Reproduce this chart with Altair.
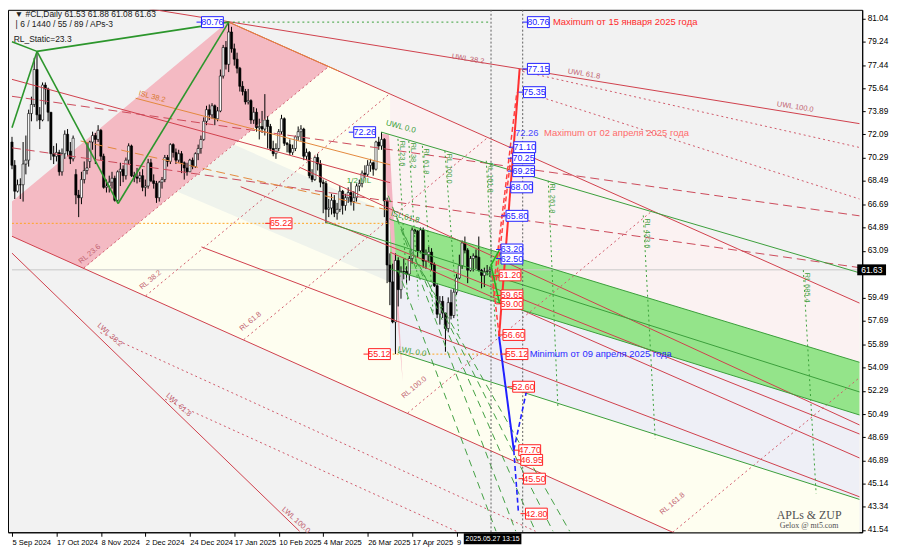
import altair as alt
import pandas as pd

# ---------------- candles (bar index 0 = 25 Sep 2024) ----------------
OPEN = [71.5,69.7,67.7,68.2,68.2,69.8,70.1,73.7,74.4,77.1,
        73.6,73.2,75.9,75.6,73.8,70.6,70.4,70.7,69.2,70.6,
        72.1,70.8,70.2,69.0,67.4,67.2,68.6,69.3,70.0,71.5,
        72.0,71.7,72.4,70.4,68.0,68.1,68.4,68.7,67.0,69.2,
        69.4,68.9,70.1,71.2,68.9,68.8,68.7,68.9,68.0,68.1,
        69.9,68.5,68.3,67.2,68.4,68.6,70.3,70.0,71.3,70.7,
        70.1,70.6,69.9,69.5,69.2,70.1,69.6,70.6,71.0,71.7,
        73.1,74.0,73.6,74.3,73.3,73.9,76.6,78.8,77.5,80.0,
        78.7,77.9,77.2,75.8,75.4,74.6,74.7,73.2,73.8,72.6,
        72.7,72.5,73.2,72.7,71.0,70.6,71.0,72.3,73.3,71.4,
        71.3,70.7,71.0,71.9,72.3,72.5,70.4,70.7,68.9,68.6,
        70.3,69.8,68.4,68.3,66.3,66.4,67.0,66.0,66.3,67.7,
        66.6,67.2,67.6,66.9,67.2,68.1,68.3,69.1,69.0,69.7,
        69.9,69.4,71.5,71.2,71.7,66.95,62.0,60.7,57.6,62.35,
        60.1,61.5,61.5,61.3,62.5,64.7,64.6,63.1,64.7,62.3,
        62.8,63.0,62.05,60.4,58.2,59.2,58.3,57.1,59.1,58.1,
        59.9,61.0,61.95,63.7,63.15,61.6,62.5,62.7,62.6,61.6,
        61.2,61.5,61.53]
HIGH = [71.9,70.1,68.6,68.7,71.5,72.0,74.0,75.0,78.0,78.5,
        74.2,76.1,76.1,75.7,73.8,71.2,71.4,70.9,71.0,72.4,
        72.5,71.5,72.0,69.4,67.8,69.2,70.0,71.5,71.6,72.3,
        72.2,72.8,72.5,70.6,68.6,68.9,69.2,68.9,69.3,69.9,
        69.7,70.3,71.4,71.3,69.2,69.5,69.2,69.4,68.6,70.2,
        70.2,69.0,68.5,68.5,68.8,70.5,70.5,71.4,71.4,71.0,
        70.9,70.8,70.0,69.9,70.2,70.3,70.7,71.3,72.0,73.4,
        74.3,74.4,74.5,74.4,74.2,77.1,79.0,79.3,80.76,80.4,
        79.1,78.4,77.3,76.2,75.6,75.6,74.8,74.2,74.1,73.3,
        73.9,75.2,73.5,72.9,71.6,71.4,72.5,73.6,73.4,71.5,
        71.7,71.3,72.0,72.7,72.8,72.6,71.0,70.8,69.4,70.4,
        70.6,70.1,68.6,68.5,67.1,67.5,67.4,66.8,68.1,67.8,
        67.5,68.0,68.4,67.7,68.3,68.6,69.3,69.7,70.1,70.2,
        70.0,71.6,71.9,72.26,71.8,67.2,62.9,62.1,62.9,62.6,
        61.9,62.5,61.9,62.7,64.9,64.8,64.7,64.9,64.9,63.2,
        63.4,63.3,62.2,60.6,59.6,59.6,58.3,59.5,60.1,60.2,
        61.3,62.8,63.9,64.2,63.3,62.7,62.9,63.2,64.2,61.7,
        61.8,62.0,61.88]
LOW = [69.4,67.1,67.6,67.1,66.9,69.0,69.6,73.1,74.2,73.1,
       72.5,73.1,74.4,73.1,70.1,69.8,70.0,68.9,68.9,70.2,
       70.4,69.8,70.0,66.7,65.7,66.7,68.3,69.0,69.5,70.9,
       69.8,71.5,70.1,67.9,67.6,67.6,67.9,66.9,66.9,68.1,
       68.4,68.6,69.8,68.8,68.4,68.3,68.4,67.7,67.3,67.9,
       68.4,67.9,66.8,66.9,67.9,68.4,69.6,69.8,70.3,69.8,
       69.9,69.1,68.6,68.9,69.2,69.4,69.5,70.1,70.6,71.6,
       72.8,73.2,73.3,72.8,73.1,73.8,76.4,77.1,76.9,78.4,
       77.4,76.8,75.4,75.1,74.4,74.4,72.9,72.9,72.3,71.7,
       72.2,72.0,71.0,70.8,70.4,70.2,70.8,72.1,71.2,70.7,
       70.5,70.5,70.8,71.6,71.6,70.1,70.1,68.7,68.4,68.5,
       69.3,68.0,66.0,65.22,65.7,65.9,65.7,65.5,66.1,65.9,
       66.2,66.8,66.6,66.2,66.9,67.7,68.0,68.7,68.8,69.2,
       68.9,69.3,70.9,70.9,65.7,60.6,58.9,57.5,55.12,58.8,
       59.4,60.9,60.6,60.8,62.1,64.4,62.6,62.9,61.8,61.7,
       62.2,61.6,60.3,57.9,57.4,57.9,55.3,56.8,57.8,57.9,
       59.7,60.9,61.7,62.9,60.6,61.5,61.5,61.7,61.5,60.2,
       60.3,61.2,61.08]
CLOSE = [69.7,67.7,68.2,68.2,69.8,70.1,73.7,74.4,77.1,73.6,
         73.2,75.9,75.6,73.8,70.6,70.4,70.7,69.2,70.6,72.1,
         70.8,70.2,71.8,67.4,67.2,68.6,69.3,69.5,71.5,72.0,
         71.7,72.4,70.4,68.0,68.1,68.4,68.7,67.0,69.2,69.4,
         68.9,70.1,71.2,68.9,68.8,68.7,68.9,68.0,68.1,69.9,
         68.5,68.3,67.2,68.4,68.6,70.3,70.0,71.3,70.7,70.1,
         70.6,69.9,69.5,69.2,70.1,69.6,70.6,71.0,71.7,73.1,
         74.0,73.6,74.3,73.3,73.9,76.6,78.8,77.5,80.0,78.7,
         77.9,77.2,75.8,75.4,74.6,74.7,73.2,73.8,72.6,72.7,
         72.5,73.2,72.7,71.0,70.6,71.0,72.3,73.3,71.4,71.3,
         70.7,71.0,71.9,72.3,72.5,70.4,70.7,68.9,68.6,70.3,
         69.8,68.4,68.3,66.3,66.4,67.0,66.0,66.3,67.7,66.6,
         67.2,67.6,66.9,67.2,68.1,68.3,69.1,69.0,69.7,69.9,
         69.4,71.5,71.2,71.7,66.95,62.0,60.7,57.6,62.35,60.1,
         61.5,61.5,61.3,62.5,64.7,64.6,63.1,64.7,62.3,62.8,
         63.0,62.05,60.4,58.2,59.2,58.3,57.1,59.1,58.1,59.9,
         61.0,61.95,63.7,63.15,61.6,62.5,62.7,62.6,61.6,61.2,
         61.5,61.53,61.63]

# ---------------- axes ----------------
X_TICKS = [0, 16, 32, 48, 64, 80, 96, 112, 128, 144, 160]
X_LABELS = ["5 Sep 2024", "17 Oct 2024", "8 Nov 2024", "2 Dec 2024", "24 Dec 2024",
            "17 Jan 2025", "10 Feb 2025", "4 Mar 2025", "26 Mar 2025", "17 Apr 2025", "9"]
Y_TICKS = [81.04, 79.24, 77.44, 75.64, 73.89, 72.09, 70.29, 68.49, 66.69, 64.89, 63.09,
           61.29, 59.49, 57.69, 55.89, 54.09, 52.29, 50.49, 48.69, 46.89, 45.14, 43.34, 41.54]
Y_HIDDEN = 61.29          # label hidden under the last-price box
LAST_PRICE = 61.63

# ---------------- shaded zones: (bar, top price, bottom price) ----------------
CREAM = [(25.8, 61.77, 61.77), (114.1, 77.35, 53.25), (303.9, 59.16, 35.0), (305.0, 59.06, 34.9)]
MINT = [(59.4, 67.67, 67.67), (79.9, 71.3, 65.8), (136.1, 65.98, 60.69)]
PINKWHITE = [(136.1, 75.21, 55.44), (305.0, 59.06, 43.9)]
LAVENDER = [(136.1, 61.69, 55.44), (305.0, 50.42, 43.9)]
PINK = [(0, 66.9, 64.22), (25.8, 71.51, 61.74), (77.7, 80.79, 70.96), (114.1, 77.35, 77.35)]
GREEN = [(136.1, 65.52, 61.69), (305.0, 54.49, 50.42)]
SLIVER = [(133.2, 72.12, 72.12), (135.7, 72.1, 65.7), (140.6, 53.02, 53.02)]

# ---------------- line segments: (bar1, price1, bar2, price2) ----------------
RED_SOLID = [(49.5, 81.78, 305.0, 72.92), (77.7, 80.79, 305.0, 59.06), (0, 76.34, 136.1, 68.36),
             (82.3, 68.05, 305.0, 48.95), (68.2, 63.40, 305.0, 44.1), (103.5, 69.55, 305.0, 49.65),
             (136.1, 62.99, 305.0, 47.1), (0, 64.22, 305.0, 34.9), (0, 62.92, 103.5, 41.44)]
RED_DASH = [(0, 75.03, 305.0, 65.8), (0, 71.05, 305.0, 61.8)]
RED_DOT = [(183.8, 76.95, 305.0, 71.08), (183.8, 75.42, 305.0, 67.1), (31.8, 56.78, 188.4, 41.44),
           (55.1, 51.64, 159.9, 41.44), (48.1, 59.62, 135.7, 75.19), (83.4, 56.24, 171.0, 71.81),
           (142.4, 50.57, 229.7, 66.06), (237.8, 41.36, 305.0, 53.3), (25.8, 61.77, 114.1, 77.35)]
ORANGE_SOLID = [(44.5, 74.88, 136.1, 69.74), (77.7, 80.79, 117.7, 76.97)]
ORANGE_DASH = [(24.7, 71.58, 136.1, 66.21)]
ORANGE_DOT = [(0, 65.22, 136.0, 65.22), (137.0, 55.12, 177.7, 55.12)]
GREEN_SOLID = [(132.9, 72.27, 305.0, 61.4), (113.1, 65.29, 305.0, 52.2), (136.1, 65.52, 305.0, 54.49),
               (136.1, 61.69, 305.0, 50.42), (138.9, 55.25, 305.0, 43.9)]
GREEN_DASH = [(135.4, 67.36, 181.3, 41.44), (138.2, 65.83, 188.4, 41.44), (140.6, 64.53, 194.7, 41.44),
              (143.1, 63.15, 200.7, 41.44), (138.9, 61.61, 174.2, 41.44)]
GREEN_DOT = [(138.9, 71.74, 142.4, 59.31), (142.8, 71.58, 146.3, 59.31), (147.7, 71.2, 151.6, 58.16),
             (155.8, 70.82, 160.8, 56.63), (170.7, 70.05, 174.2, 56.24), (193.0, 68.51, 196.5, 50.87),
             (227.2, 65.83, 231.5, 48.57), (284.8, 61.61, 289.4, 44.35), (77.7, 80.76, 172.4, 80.76)]
ZUP = [(0, 72.6, 9, 78.5), (9, 78.5, 0, 79.25), (9, 78.5, 78, 80.76), (9, 78.5, 38.2, 66.75),
       (38.2, 66.75, 78, 80.76)]
VGRAY = [(172.4, 41.36, 172.4, 81.71), (183.8, 41.36, 183.8, 81.71)]
HGRAY = [(0, LAST_PRICE, 305.0, LAST_PRICE)]
RED_PROJ = [(175.3, 56.47, 182.7, 77.15)]
RED_PROJ_DASH = [(173.2, 60.1, 181.7, 75.35), (173.6, 59.6, 180.0, 71.1), (172.8, 61.2, 175.3, 56.6)]
BLUE_PROJ = [(175.3, 56.47, 180.6, 47.7)]
BLUE_PROJ_DASH = [(180.6, 47.7, 185.5, 52.6), (180.6, 47.7, 182.3, 42.8)]
GREEN_PROJ = [(172.4, 62.0, 175.5, 63.2), (172.4, 62.0, 175.5, 59.0)]

# ---------------- price boxes: (bar, price) ----------------
BOX_BLUE = [(185.5, 80.76), (185.5, 77.15), (184.1, 75.35), (180.6, 71.10), (180.2, 70.25),
            (180.2, 69.25), (179.5, 68.00), (177.8, 65.80), (176.0, 63.20), (176.0, 62.50),
            (68.2, 80.76), (123.0, 72.26)]
BOX_RED = [(175.3, 61.20), (176.0, 59.65), (176.0, 59.00), (176.7, 56.60), (177.8, 55.12),
           (180.2, 52.60), (182.4, 47.70), (183.1, 46.95), (184.1, 45.50), (184.8, 42.80),
           (92.9, 65.22), (128.3, 55.12)]

# ---------------- texts ----------------
HEADER = [("\u25bc #CL,Daily  61.53 61.88 61.08 61.63", 1.0, 81.38),
          ("| 6 / 1440 / 55 / 89 / APs-3", 1.3, 80.62),
          ("RL_Static=23.3", 0.6, 79.42)]
NOTES = [("Maximum от 15 января 2025 года", 194.7, 80.76, "#ff2a2a"),
         ("72.26", 181.0, 72.2, "#4a4aff"),
         ("Maximum от 02 апреля 2025 года", 191.5, 72.2, "#ff6a6a"),
         ("Minimum от 09 апреля 2025 года", 186.3, 55.12, "#2a2aff")]
RED_LABELS = [("UWL 38.2", 158.3, 78.1, 9), ("UWL 61.8", 200.0, 76.95, 9), ("UWL 100.0", 275.3, 74.42, 9),
              ("LWL 38.2", 31.1, 57.4, 42), ("LWL 61.8", 55.8, 52.0, 42), ("LWL 100.0", 97.5, 43.2, 42),
              ("RL 23.6", 24.4, 62.2, 320), ("RL 38.2", 46.3, 60.2, 320), ("RL 61.8", 82.3, 57.0, 320),
              ("RL 100.0", 140.6, 51.79, 320), ("RL 161.8", 233.6, 42.82, 320)]
ORANGE_LABELS = [("ISL 38.2", 45.6, 75.26, 15)]
GREEN_LABELS = [("UWL 0.0", 134.6, 72.96, 15), ("LWL 0.0", 138.9, 55.48, 10),
                ("ISL 61.8", 136.4, 65.98, 15), ("1/2 ML", 120.5, 68.51, 0)]
GREEN_TIME_LABELS = [("RL 23.6", 138.9, 71.6), ("RL 38.2", 142.8, 71.45), ("RL 61.8", 147.7, 71.0),
                     ("RL 100.0", 155.8, 70.6), ("RL 161.8", 170.7, 69.9), ("RL 261.8", 193.0, 68.3),
                     ("RL 423.6", 227.2, 65.6), ("RL 685.4", 284.8, 61.4)]
CURSOR = ("2025.05.27 13:15", 162.6)
MARK = [("APLs & ZUP", 286.9, 42.67, 12), ("Gelox @ mt5.com", 286.9, 41.85, 8)]

FONT = "Liberation Sans"

# ---------------- scales / axes ----------------
XS = alt.Scale(domain=[0.353, 304.2], nice=False, zero=False)
YS = alt.Scale(domain=[41.36, 81.71], nice=False, zero=False)
label_expr = "".join(f"datum.value == {v} ? '{t}' : " for v, t in zip(X_TICKS, X_LABELS)) + "''"
y_label_expr = f"abs(datum.value - {Y_HIDDEN}) < 0.001 ? '' : format(datum.value, '.2f')"
XAX = alt.Axis(values=X_TICKS, labelExpr=label_expr, title=None, grid=False, labelAlign="left",
               labelPadding=2, labelFontSize=7.6, labelFont=FONT, tickSize=4, tickColor="black",
               domainColor="black", labelColor="black", labelOverlap=False, labelFlush=False)
YAX = alt.Axis(values=Y_TICKS, orient="right", labelExpr=y_label_expr, title=None, grid=False,
               labelFontSize=8.3, labelFont=FONT, tickSize=3, labelPadding=2, tickColor="black",
               domainColor="black", labelColor="black", labelOverlap=False)


def xe(f):
    return alt.X(f, type="quantitative", scale=XS, axis=XAX)


def ye(f, stack=False):
    if stack:
        return alt.Y(f, type="quantitative", scale=YS, axis=YAX, stack=None)
    return alt.Y(f, type="quantitative", scale=YS, axis=YAX)


def area(pts, color):
    df = pd.DataFrame(pts, columns=["x", "top", "bot"])
    return alt.Chart(df).mark_area(color=color, clip=True, opacity=1).encode(
        x=xe("x"), y=ye("top", stack=True), y2=alt.Y2("bot"))


def lines(segs, color, width=1.0, dash=None):
    rows = []
    for k, (x1, y1, x2, y2) in enumerate(segs):
        rows.append({"seg": k, "x": x1, "y": y1})
        rows.append({"seg": k, "x": x2, "y": y2})
    kw = dict(color=color, strokeWidth=width, clip=True)
    if dash:
        kw["strokeDash"] = dash
    return alt.Chart(pd.DataFrame(rows)).mark_line(**kw).encode(
        x=xe("x"), y=ye("y"), detail="seg:N")


def texts(rows, color, size, angle=0, align="left", dx=0, dy=0, font=FONT, baseline="middle"):
    df = pd.DataFrame(rows, columns=["t", "x", "y"])
    return alt.Chart(df).mark_text(color=color, fontSize=size, angle=angle, align=align, dx=dx, dy=dy,
                                   font=font, baseline=baseline).encode(x=xe("x"), y=ye("y"), text="t:N")


layers = []
# zones
layers += [area(CREAM, "#fefef0"), area(MINT, "#eff3ec"), area(PINKWHITE, "#fbf2f2"),
           area(LAVENDER, "#eeeff6"), area(PINK, "#f4bac3"), area(GREEN, "#94e48a"),
           area(SLIVER, "#f3b4c2")]
layers += [lines(HGRAY, "#c8c8c8", 1)]

# candles
cdf = pd.DataFrame({"i": list(range(len(OPEN))), "o": OPEN, "h": HIGH, "l": LOW, "c": CLOSE})
layers.append(alt.Chart(cdf).mark_rule(color="#000000", strokeWidth=1, clip=True).encode(
    x=xe("i"), y=ye("l"), y2=alt.Y2("h")))
layers.append(alt.Chart(cdf).mark_bar(size=2.2, stroke="#000000", strokeWidth=0.6, clip=True).encode(
    x=xe("i"), y=ye("o"), y2=alt.Y2("c"),
    fill=alt.condition("datum.c >= datum.o", alt.value("#ffffff"), alt.value("#000000"))))

# structure lines
layers += [
    lines(RED_SOLID, "#d0404c", 1),
    lines(RED_DASH, "#cc4a5a", 1, [9, 5]),
    lines(RED_DOT, "#d05a6a", 1, [2, 3]),
    lines(ORANGE_SOLID, "#e3883c", 1),
    lines(ORANGE_DASH, "#e3883c", 1, [9, 5]),
    lines(ORANGE_DOT, "#ffa420", 1, [2, 2]),
    lines(GREEN_SOLID, "#3a9e3a", 1),
    lines(GREEN_DASH, "#44a044", 1, [7, 5]),
    lines(GREEN_DOT, "#3aa03a", 1, [2, 3]),
    lines(ZUP, "#2c962c", 1.6),
    lines(VGRAY, "#606060", 1, [2, 2]),
    lines(RED_PROJ, "#ff3030", 2),
    lines(RED_PROJ_DASH, "#ff4040", 1.5, [5, 3]),
    lines(BLUE_PROJ, "#2020ff", 2),
    lines(BLUE_PROJ_DASH, "#2020ff", 1.6, [5, 3]),
    lines(GREEN_PROJ, "#20b020", 1.5),
]

# line labels
for t, x, y, a in RED_LABELS:
    layers.append(texts([(t, x, y)], "#c0606e", 7.5, angle=a))
for t, x, y, a in ORANGE_LABELS:
    layers.append(texts([(t, x, y)], "#d8782c", 7.5, angle=a))
for t, x, y, a in GREEN_LABELS:
    layers.append(texts([(t, x, y)], "#3a9e3a", 8, angle=a))
layers.append(texts(GREEN_TIME_LABELS, "#3a9e3a", 7.5, angle=90, dx=0, dy=-4))


# price boxes
def boxes(pts, color):
    df = pd.DataFrame(pts, columns=["x", "p"])
    df["t"] = [f"{v:.2f}" for v in df["p"]]
    rect = alt.Chart(df).mark_rect(fill="#ffffff", stroke=color, strokeWidth=1, x2Offset=22,
                                   yOffset=-5.5, y2Offset=5.5).encode(
        x=xe("x"), x2=alt.X2("x"), y=ye("p"), y2=alt.Y2("p"))
    tick = alt.Chart(df).mark_rule(color=color, strokeWidth=1, xOffset=-5).encode(
        x=xe("x"), x2=alt.X2("x"), y=ye("p"))
    txt = alt.Chart(df).mark_text(color=color, fontSize=9, font=FONT, align="center", baseline="middle",
                                  dx=11).encode(x=xe("x"), y=ye("p"), text="t:N")
    return [tick, rect, txt]


layers += boxes(BOX_BLUE, "#2020ff")
layers += boxes(BOX_RED, "#ff2020")

# annotation texts
for t, x, y, c in NOTES:
    layers.append(texts([(t, x, y)], c, 9.5))
layers.append(texts(HEADER, "#202020", 8.5))
for t, x, y, s in MARK:
    layers.append(texts([(t, x, y)], "#505050", s, align="center", font="Liberation Serif"))

# last price box on the price axis
lp = pd.DataFrame({"x": [304.2], "p": [LAST_PRICE], "t": [f"{LAST_PRICE:.2f}"]})
layers.append(alt.Chart(lp).mark_rect(fill="#000000", x2Offset=29, yOffset=-5.5, y2Offset=5.5).encode(
    x=xe("x"), x2=alt.X2("x"), y=ye("p"), y2=alt.Y2("p")))
layers.append(alt.Chart(lp).mark_text(color="#ffffff", fontSize=8.5, font=FONT, align="left", dx=4,
                                      baseline="middle").encode(x=xe("x"), y=ye("p"), text="t:N"))

# cursor time box under the time axis
cdf2 = pd.DataFrame({"x": [CURSOR[1]], "p": [41.36], "t": [CURSOR[0]]})
layers.append(alt.Chart(cdf2).mark_rect(fill="#000000", x2Offset=58, yOffset=1, y2Offset=12).encode(
    x=xe("x"), x2=alt.X2("x"), y=ye("p"), y2=alt.Y2("p")))
layers.append(alt.Chart(cdf2).mark_text(color="#ffffff", fontSize=7, font=FONT, align="center", dx=29,
                                        dy=7, baseline="middle").encode(x=xe("x"), y=ye("p"), text="t:N"))

chart = alt.layer(*layers).properties(
    width=860, height=526,
    autosize=alt.AutoSizeParams(type="none"),
    padding={"left": 0, "top": 0, "right": 30, "bottom": 14},
    background="#ffffff",
).configure_view(fill="#f2f2f2", stroke="#000000", strokeWidth=1)

chart.save("out.html", embed_options={"renderer": "svg", "actions": False})
